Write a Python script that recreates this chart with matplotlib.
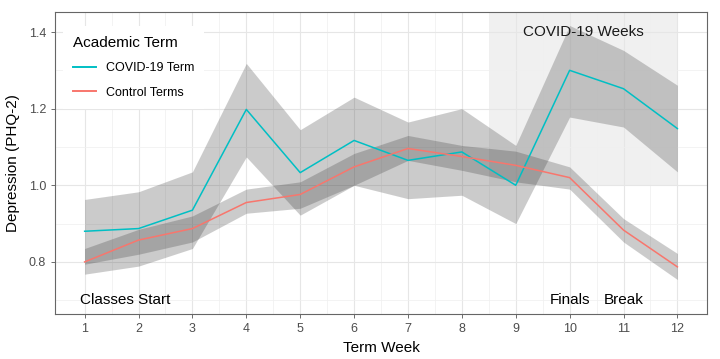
import numpy as np
import matplotlib.pyplot as plt

plt.rcParams['font.family'] = ['Liberation Sans', 'DejaVu Sans']

weeks = np.arange(1, 13)

covid_mean = [0.880, 0.887, 0.935, 1.198, 1.033, 1.117, 1.065, 1.087, 1.000, 1.300, 1.252, 1.148]
covid_low = [0.768, 0.789, 0.835, 1.074, 0.922, 1.000, 0.965, 0.974, 0.900, 1.178, 1.152, 1.035]
covid_high = [0.963, 0.983, 1.035, 1.318, 1.145, 1.230, 1.165, 1.200, 1.104, 1.417, 1.352, 1.261]

control_mean = [0.800, 0.857, 0.887, 0.955, 0.976, 1.048, 1.096, 1.075, 1.052, 1.020, 0.883, 0.787]
control_low = [0.794, 0.820, 0.852, 0.927, 0.940, 1.000, 1.065, 1.039, 1.009, 0.990, 0.852, 0.754]
control_high = [0.835, 0.885, 0.920, 0.990, 1.009, 1.083, 1.130, 1.104, 1.089, 1.048, 0.913, 0.822]

covid_weeks = (8.5, 12)

fig = plt.figure(figsize=(7.2, 3.59), dpi=100)
ax = fig.add_axes([0.0764, 0.1253, 0.9056, 0.8421])

# covid weeks background, under the grid
ax.axvspan(*covid_weeks, ymin=(1.0 - 0.664) / (1.453 - 0.664), ymax=1,
           color='#F0F0F0', lw=0, zorder=0.2)

band = dict(color='#333333', alpha=0.25, lw=0, zorder=2)
ax.fill_between(weeks, covid_low, covid_high, **band)
ax.fill_between(weeks, control_low, control_high, **band)

ax.plot(weeks, covid_mean, color='#00BFC4', lw=1.1, label='COVID-19 Term', zorder=3)
ax.plot(weeks, control_mean, color='#F8766D', lw=1.1, label='Control Terms', zorder=3)

ax.text(10.25, 1.4, 'COVID-19 Weeks', ha='center', va='center', fontsize=11, color='#1A1A1A')
ax.text(1.75, 0.7, 'Classes Start', ha='center', va='center', fontsize=11, color='black')
ax.text(10.0, 0.7, 'Finals', ha='center', va='center', fontsize=11, color='black')
ax.text(11.0, 0.7, 'Break', ha='center', va='center', fontsize=11, color='black')

ax.set_xlim(0.45, 12.55)
ax.set_ylim(0.664, 1.453)
ax.set_xticks(weeks)
ax.set_xticks(np.arange(1.5, 12, 1), minor=True)
ax.set_yticks([0.8, 1.0, 1.2, 1.4])
ax.set_yticks([0.7, 0.9, 1.1, 1.3], minor=True)
ax.set_yticklabels(['0.8', '1.0', '1.2', '1.4'])
ax.set_axisbelow(True)
ax.grid(which='major', color='#E6E6E6', lw=0.8, zorder=0.5)
ax.grid(which='minor', color='#EFEFEF', lw=0.5, zorder=0.5)
ax.tick_params(which='major', length=3, color='#555555', labelsize=9, labelcolor='#4D4D4D', width=0.6)
ax.tick_params(which='minor', length=0)
for s in ax.spines.values():
    s.set_color('#666666')
    s.set_linewidth(0.8)

ax.set_xlabel('Term Week', fontsize=11, labelpad=4)
ax.set_ylabel('Depression (PHQ-2)', fontsize=11, labelpad=6)

leg = ax.legend(loc='upper left', bbox_to_anchor=(0.003, 0.975), title='Academic Term',
                fontsize=9, title_fontsize=11, frameon=True, facecolor='white',
                edgecolor='none', framealpha=1, fancybox=False, handlelength=1.8,
                borderpad=0.8, labelspacing=1.0, handletextpad=0.8)
leg._legend_box.align = 'left'
leg.set_zorder(4)
for h in leg.get_lines():
    h.set_linewidth(1.4)

fig.savefig('out.png', dpi=100)
